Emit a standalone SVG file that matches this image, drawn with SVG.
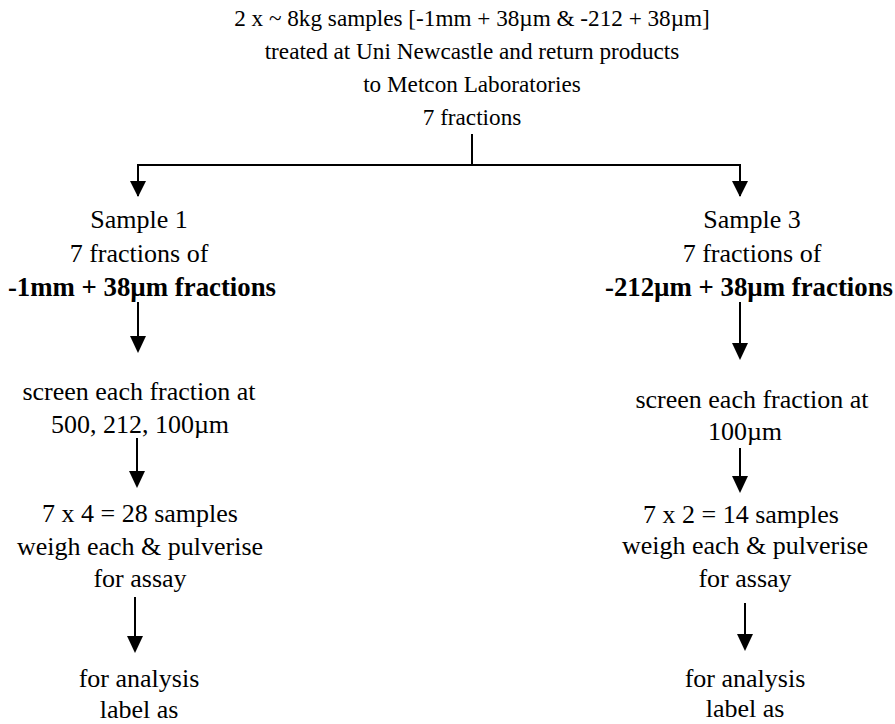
<svg xmlns="http://www.w3.org/2000/svg" width="895" height="724" viewBox="0 0 895 724">
<style>
text{font-family:'Liberation Serif','Times New Roman',serif;font-size:26px;fill:#000;text-anchor:middle}
.t{font-size:23.2px}
.b{font-weight:bold;font-size:26.8px}
.ln{stroke:#000;stroke-width:2;fill:none}
</style>
<rect width="895" height="724" fill="#fff"/>
<g id="top">
<text class="t" x="472" y="26">2 x ~ 8kg samples [-1mm + 38µm &amp; -212 + 38µm]</text>
<text class="t" x="472" y="59">treated at Uni Newcastle and return products</text>
<text class="t" x="472" y="92">to Metcon Laboratories</text>
<text class="t" x="472" y="125">7 fractions</text>
</g>
<g id="connectors">
<line class="ln" x1="472" y1="134" x2="472" y2="165"/>
<polyline class="ln" points="138,196 138,165 740,165 740,196"/>
<path d="M130,181 L146,181 L138,197 Z"/>
<path d="M732,181 L748,181 L740,197 Z"/>
<line class="ln" x1="138" y1="302" x2="138" y2="340"/><path d="M130,336 L146,336 L138,353 Z"/>
<line class="ln" x1="137" y1="438" x2="137" y2="475"/><path d="M129,471 L145,471 L137,488 Z"/>
<line class="ln" x1="135" y1="597" x2="135" y2="640"/><path d="M127,636 L143,636 L135,653 Z"/>
<line class="ln" x1="740" y1="302" x2="740" y2="347"/><path d="M732,343 L748,343 L740,360 Z"/>
<line class="ln" x1="740" y1="448" x2="740" y2="480"/><path d="M732,476 L748,476 L740,493 Z"/>
<line class="ln" x1="745" y1="603" x2="745" y2="638"/><path d="M737,634 L753,634 L745,651 Z"/>
</g>
<g id="sample1">
<text x="139" y="228">Sample 1</text>
<text x="139" y="262">7 fractions of</text>
<text class="b" x="142" y="296">-1mm + 38µm fractions</text>
</g>
<g id="screen1">
<text x="139" y="400">screen each fraction at</text>
<text x="140" y="433">500, 212, 100µm</text>
</g>
<g id="weigh1">
<text x="140" y="522">7 x 4 = 28 samples</text>
<text x="140" y="555">weigh each &amp; pulverise</text>
<text x="140" y="587">for assay</text>
</g>
<g id="analysis1">
<text x="139" y="687">for analysis</text>
<text x="139" y="718">label as</text>
</g>
<g id="sample3">
<text x="752" y="228">Sample 3</text>
<text x="752" y="262">7 fractions of</text>
<text class="b" x="749" y="296">-212µm + 38µm fractions</text>
</g>
<g id="screen3">
<text x="752" y="408">screen each fraction at</text>
<text x="745" y="440">100µm</text>
</g>
<g id="weigh3">
<text x="741" y="523">7 x 2 = 14 samples</text>
<text x="745" y="554">weigh each &amp; pulverise</text>
<text x="745" y="587">for assay</text>
</g>
<g id="analysis3">
<text x="745" y="687">for analysis</text>
<text x="745" y="717">label as</text>
</g>
</svg>
